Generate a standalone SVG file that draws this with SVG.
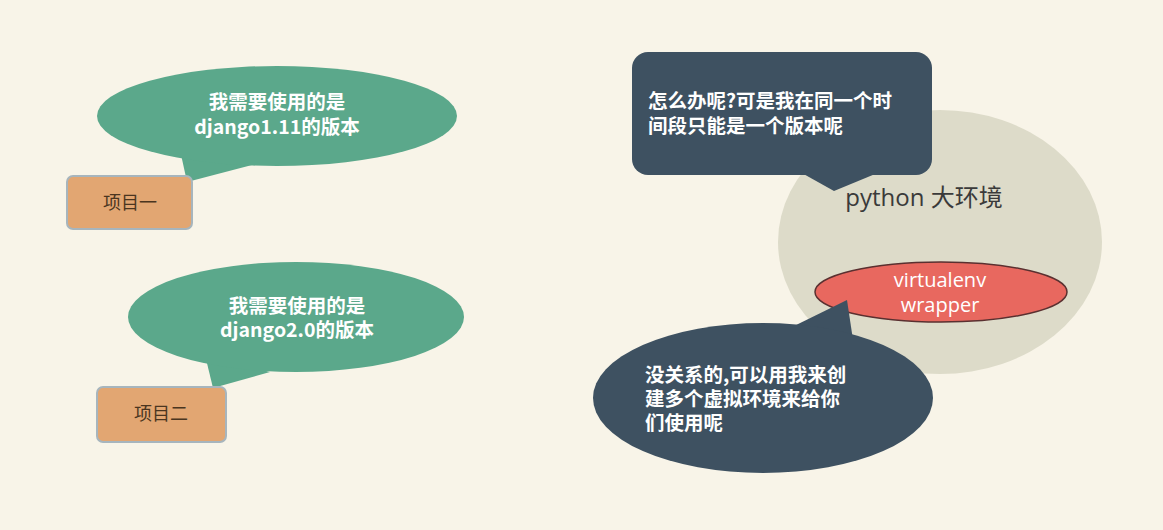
<svg xmlns="http://www.w3.org/2000/svg" width="1163" height="530" viewBox="0 0 1163 530">
<style>
.bub{fill:#5ba88b}
.dark{fill:#3e5161}
.box{fill:#e2a672;stroke:#a7b5bd;stroke-width:2}
.bt{font-family:"Noto Sans CJK SC","Noto Sans",sans-serif;font-weight:bold;font-size:19.5px;fill:#ffffff}
.boxt{font-family:"Noto Sans CJK SC",sans-serif;font-size:18px;fill:#4a3520;text-anchor:middle}
.mid{text-anchor:middle}
</style>
<rect width="1163" height="530" fill="#f8f4e8"/>
<g id="python-env">
<ellipse cx="940" cy="242" rx="162" ry="132" fill="#dddbc9"/>
<text x="924" y="206" text-anchor="middle" font-family="'Open Sans','Noto Sans CJK SC',sans-serif" font-size="24" fill="#3a3a3a">python 大环境</text>
</g>
<g id="virtualenv">
<ellipse cx="941" cy="292" rx="126" ry="30" fill="#e8685f" stroke="#5a3030" stroke-width="1.5"/>
<text x="940" y="287" text-anchor="middle" font-family="'Open Sans',sans-serif" font-size="20" fill="#ffffff">virtualenv</text>
<text x="940" y="312" text-anchor="middle" font-family="'Open Sans',sans-serif" font-size="20" fill="#ffffff">wrapper</text>
</g>
<g id="bubble1">
<path class="bub" d="M180,150 L187,182 L252,165 Z"/>
<ellipse class="bub" cx="277" cy="116" rx="180" ry="50"/>
<text class="bt mid" x="277" y="109">我需要使用的是</text>
<text class="bt mid" x="277" y="134">django1.11的版本</text>
</g>
<g id="project1">
<rect class="box" x="67" y="176" width="125" height="53" rx="6"/>
<text class="boxt" x="130" y="209">项目一</text>
</g>
<g id="bubble2">
<path class="bub" d="M205,355 L213,388 L270,372 Z"/>
<ellipse class="bub" cx="296" cy="317" rx="168" ry="55"/>
<text class="bt mid" x="297" y="313">我需要使用的是</text>
<text class="bt mid" x="297" y="337">django2.0的版本</text>
</g>
<g id="project2">
<rect class="box" x="97" y="387" width="129" height="55" rx="6"/>
<text class="boxt" x="161" y="420">项目二</text>
</g>
<g id="question">
<path class="dark" d="M800,172 L834,191 L880,172 Z"/>
<rect class="dark" x="632" y="52" width="300" height="123" rx="16"/>
<text class="bt" x="648" y="108">怎么办呢?可是我在同一个时</text>
<text class="bt" x="648" y="133">间段只能是一个版本呢</text>
</g>
<g id="answer">
<path class="dark" d="M790,328 L847,300 L853,340 Z"/>
<ellipse class="dark" cx="763" cy="398" rx="170" ry="75"/>
<text class="bt" x="645" y="382">没关系的,可以用我来创</text>
<text class="bt" x="645" y="406">建多个虚拟环境来给你</text>
<text class="bt" x="645" y="430">们使用呢</text>
</g>
<g id="connectors"/>
</svg>
